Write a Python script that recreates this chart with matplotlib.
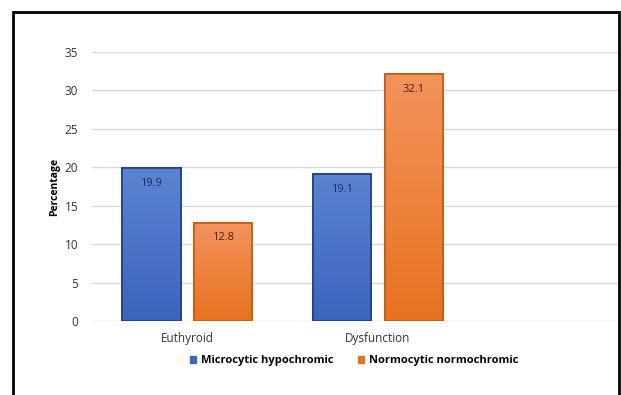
import numpy as np
import matplotlib.pyplot as plt
from matplotlib.patches import Rectangle
from matplotlib.colors import LinearSegmentedColormap

plt.rcParams['font.family'] = ['Open Sans', 'DejaVu Sans']

categories = ['Euthyroid', 'Dysfunction']
series_names = ['Microcytic hypochromic', 'Normocytic normochromic']
microcytic = [19.9, 19.1]
normocytic = [12.8, 32.1]
yticks = [0, 5, 10, 15, 20, 25, 30, 35]

# gradient (top colour, bottom colour), edge colour, label colour per series
styles = [
    (('#5a84d2', '#3b64bd'), '#1f3f8c', '#1f3050'),
    (('#f3935b', '#e8721f'), '#c55a11', '#4a2410'),
]

fig = plt.figure(figsize=(6.21, 3.95), dpi=100)
W, H = 621, 395
ax = fig.add_axes([92 / W, 1 - 321 / H, (618 - 92) / W, 269 / H])
ax.set_xlim(-0.5, 2.26)
ax.set_ylim(0, 35)

x = np.arange(len(categories))
width = 0.305
offset = 0.188

for i, vals in enumerate([microcytic, normocytic]):
    (top_c, bot_c), edge, lab_c = styles[i]
    cmap = LinearSegmentedColormap.from_list('g%d' % i, [bot_c, top_c])
    pos = x + (-offset if i == 0 else offset)
    bars = ax.bar(pos, vals, width, color=bot_c, edgecolor=edge, linewidth=1.2, zorder=3)
    for b, v in zip(bars, vals):
        grad = np.linspace(0, 1, 100).reshape(-1, 1)
        im = ax.imshow(grad, cmap=cmap, origin='lower', aspect='auto',
                       extent=[b.get_x(), b.get_x() + b.get_width(), 0, v], zorder=3.5)
        im.set_clip_path(b)
        ax.add_patch(Rectangle((b.get_x(), 0), b.get_width(), v, fill=False,
                               edgecolor=edge, linewidth=1.2, zorder=4))
        ax.annotate(f'{v}', (b.get_x() + b.get_width() / 2, v), xytext=(0, -11),
                    textcoords='offset points', ha='center', va='center',
                    fontsize=8, color=lab_c, zorder=5)

ax.set_yticks(yticks)
ax.yaxis.grid(True, color='#d9d9d9', linewidth=1)
ax.set_axisbelow(True)
ax.tick_params(axis='y', length=0, pad=10, labelsize=8.5, labelcolor='#333333')
ax.set_xticks(x)
ax.set_xticklabels(categories)
ax.tick_params(axis='x', length=0, pad=8, labelsize=8.5, labelcolor='#333333')
for s in ax.spines.values():
    s.set_visible(False)
ax.set_ylabel('Percentage', fontsize=7.5, fontweight='bold', labelpad=3)

# legend
handles = [Rectangle((0, 0), 1, 1, color=styles[i][0][1]) for i in range(2)]
fig.legend(handles, series_names, loc='center', bbox_to_anchor=(354 / W, 1 - 361 / H),
           ncol=2, frameon=False, prop={'size': 8, 'weight': 'bold'},
           handlelength=0.6, handleheight=0.6, handletextpad=0.4, columnspacing=2.2)

# outer frame
fig.add_artist(Rectangle((13 / W, -0.05), (619 - 13) / W, 1.05 - 12 / H,
                         transform=fig.transFigure, fill=False,
                         edgecolor='black', linewidth=2))

plt.savefig('out.png', dpi=100)
